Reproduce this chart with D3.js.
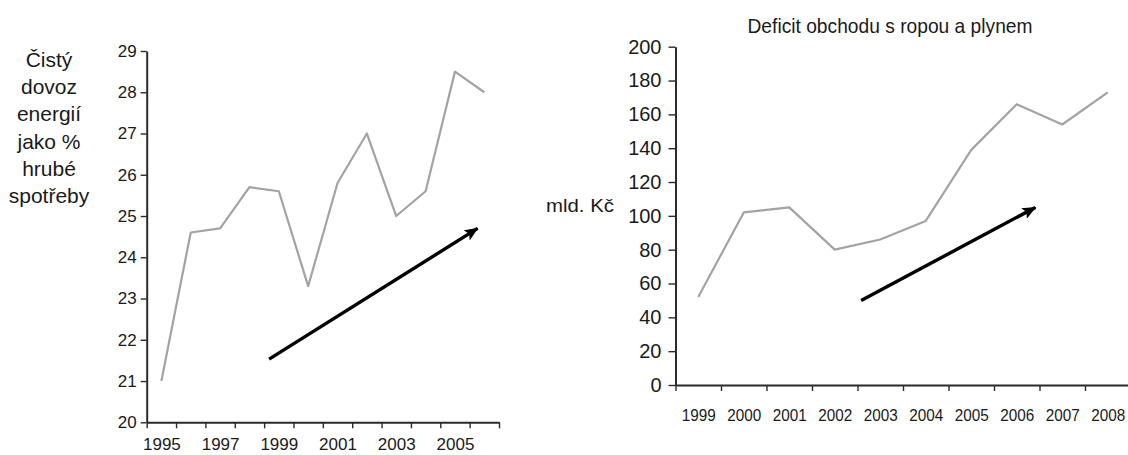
<!DOCTYPE html>
<html>
<head>
<meta charset="utf-8">
<script src="https://cdn.jsdelivr.net/npm/d3@7/dist/d3.min.js"></script>
<style>
  html, body { margin: 0; padding: 0; background: #fff; }
  svg { display: block; }
  text { font-family: "Liberation Sans", Arial, Helvetica, sans-serif; fill: #1a1a1a; }
</style>
</head>
<body>
<svg id="chart" width="1128" height="455"></svg>
<script>
// Net energy imports as % of gross consumption
const leftYears = ["1995","1996","1997","1998","1999","2000","2001","2002","2003","2004","2005","2006"];
const leftValues = [21.0, 24.6, 24.7, 25.7, 25.6, 23.3, 25.8, 27.0, 25.0, 25.6, 28.5, 28.0];
const leftXLabels = ["1995","1997","1999","2001","2003","2005"];
const leftYTicks = [20, 21, 22, 23, 24, 25, 26, 27, 28, 29];
const leftTitleLines = ["Čistý", "dovoz", "energií", "jako %", "hrubé", "spotřeby"];
// trend arrow, in (category index, value) units
const leftTrend = [[4.17, 21.53], [11.27, 24.70]];

// Oil and gas trade deficit, bn CZK
const rightYears = ["1999","2000","2001","2002","2003","2004","2005","2006","2007","2008"];
const rightValues = [52, 102, 105, 80, 86, 97, 139, 166, 154, 173];
const rightYTicks = [0, 20, 40, 60, 80, 100, 120, 140, 160, 180, 200];
const rightTitle = "Deficit obchodu s ropou a plynem";
const rightUnit = "mld. Kč";
const rightTrend = [[4.08, 50], [7.91, 105]];

const svg = d3.select("#chart");
const axisColor = "#2a2a2a";
const lineColor = "#a3a3a3";

svg.append("defs").append("marker")
  .attr("id", "head")
  .attr("markerUnits", "userSpaceOnUse")
  .attr("viewBox", "0 0 14 12")
  .attr("refX", 13).attr("refY", 6)
  .attr("markerWidth", 14).attr("markerHeight", 12)
  .attr("orient", "auto")
  .append("path")
  .attr("d", "M0,0 L14,6 L0,12 L3,6 Z")
  .attr("fill", "#000");

function styleAxis(g) {
  g.select(".domain").attr("stroke", axisColor).attr("stroke-width", 2);
  g.selectAll(".tick line").attr("stroke", axisColor).attr("stroke-width", 1.4);
}

// ---------- left panel ----------
{
  const x = d3.scaleLinear().domain([0, leftYears.length]).range([146.7, 499]);
  const y = d3.scaleLinear().domain([20, 29]).range([422.3, 51]);

  const yAxis = svg.append("g")
    .attr("transform", `translate(${x(0)},0)`)
    .call(d3.axisLeft(y).tickValues(leftYTicks).tickSize(6).tickSizeOuter(0).tickPadding(4));
  yAxis.selectAll("text").attr("font-size", 17).attr("font-family", "Liberation Sans, Arial, sans-serif").attr("fill", "#1a1a1a");
  styleAxis(yAxis);

  const xAxis = svg.append("g")
    .attr("transform", `translate(0,${y(20)})`)
    .call(d3.axisBottom(x).tickValues(d3.range(leftYears.length + 1)).tickFormat("").tickSize(6).tickSizeOuter(0));
  styleAxis(xAxis);

  const labelAxis = svg.append("g")
    .attr("transform", `translate(0,${y(20)})`)
    .call(d3.axisBottom(x)
      .tickValues(leftXLabels.map(l => leftYears.indexOf(l) + 0.5))
      .tickFormat(v => leftYears[Math.floor(v)])
      .tickSize(0).tickPadding(16));
  labelAxis.select(".domain").remove();
  labelAxis.selectAll("text").attr("font-size", 17).attr("font-family", "Liberation Sans, Arial, sans-serif").attr("fill", "#1a1a1a");

  svg.append("path")
    .datum(leftValues)
    .attr("fill", "none")
    .attr("stroke", lineColor)
    .attr("stroke-width", 2.2)
    .attr("stroke-linejoin", "round")
    .attr("d", d3.line().x((d, i) => x(i + 0.5)).y(d => y(d)));

  svg.append("line")
    .attr("x1", x(leftTrend[0][0])).attr("y1", y(leftTrend[0][1]))
    .attr("x2", x(leftTrend[1][0])).attr("y2", y(leftTrend[1][1]))
    .attr("stroke", "#000").attr("stroke-width", 3.4)
    .attr("marker-end", "url(#head)");

  const t = svg.append("text")
    .attr("text-anchor", "middle")
    .attr("font-size", 21);
  leftTitleLines.forEach((line, i) => {
    t.append("tspan").attr("x", 49).attr("y", 67 + i * 27.2).text(line);
  });
}

// ---------- right panel ----------
{
  const x = d3.scaleLinear().domain([0, rightYears.length]).range([675.5, 1130.5]);
  const y = d3.scaleLinear().domain([0, 200]).range([385, 46.7]);

  const yAxis = svg.append("g")
    .attr("transform", `translate(${x(0)},0)`)
    .call(d3.axisLeft(y).tickValues(rightYTicks).tickSize(7).tickSizeOuter(0).tickPadding(7));
  yAxis.selectAll("text").attr("font-size", 20).attr("font-family", "Liberation Sans, Arial, sans-serif").attr("fill", "#1a1a1a");
  styleAxis(yAxis);

  const xAxis = svg.append("g")
    .attr("transform", `translate(0,${y(0)})`)
    .call(d3.axisBottom(x).tickValues(d3.range(rightYears.length + 1)).tickFormat("").tickSize(6).tickSizeOuter(0));
  styleAxis(xAxis);

  const labelAxis = svg.append("g")
    .attr("transform", `translate(0,${y(0)})`)
    .call(d3.axisBottom(x)
      .tickValues(d3.range(rightYears.length).map(i => i + 0.5))
      .tickFormat(v => rightYears[Math.floor(v)])
      .tickSize(0).tickPadding(24));
  labelAxis.select(".domain").remove();
  labelAxis.selectAll("text")
    .attr("font-size", 16.5)
    .attr("font-family", "Liberation Sans, Arial, sans-serif")
    .attr("fill", "#1a1a1a")
    .attr("textLength", 34)
    .attr("lengthAdjust", "spacingAndGlyphs");

  svg.append("path")
    .datum(rightValues)
    .attr("fill", "none")
    .attr("stroke", lineColor)
    .attr("stroke-width", 2.2)
    .attr("stroke-linejoin", "round")
    .attr("d", d3.line().x((d, i) => x(i + 0.5)).y(d => y(d)));

  svg.append("line")
    .attr("x1", x(rightTrend[0][0])).attr("y1", y(rightTrend[0][1]))
    .attr("x2", x(rightTrend[1][0])).attr("y2", y(rightTrend[1][1]))
    .attr("stroke", "#000").attr("stroke-width", 3.4)
    .attr("marker-end", "url(#head)");

  svg.append("text")
    .attr("x", 890).attr("y", 32.5)
    .attr("text-anchor", "middle")
    .attr("font-size", 21)
    .attr("textLength", 285)
    .attr("lengthAdjust", "spacingAndGlyphs")
    .text(rightTitle);

  svg.append("text")
    .attr("x", 546).attr("y", 212)
    .attr("font-size", 19)
    .attr("textLength", 68)
    .attr("lengthAdjust", "spacingAndGlyphs")
    .text(rightUnit);
}
</script>
</body>
</html>
